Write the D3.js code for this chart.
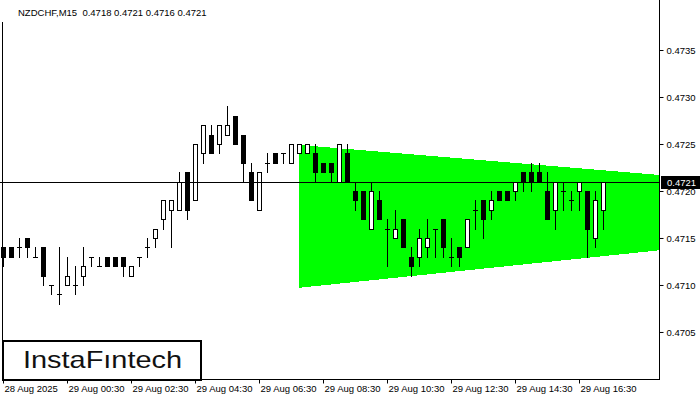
<!DOCTYPE html>
<html><head><meta charset="utf-8">
<script src="https://cdn.jsdelivr.net/npm/d3@7"></script>
<style>html,body{margin:0;padding:0;background:#fff;} svg{display:block;} text{font-family:"Liberation Sans",Arial,sans-serif;}</style>
</head><body><svg id="c" width="700" height="400"></svg>
<script>
const chartTitle = "NZDCHF,M15  0.4718 0.4721 0.4716 0.4721";
const openV  = [0.4714,0.4714,0.4714,0.4715,0.4713,0.4714,0.4710,0.4709,0.4710,0.4710,
                0.4711,0.4713,0.4712,0.4713,0.4713,0.4713,0.4711,0.4713,0.4714,0.4715,
                0.4717,0.4718,0.4718,0.4722,0.4719,0.4724,0.4726,0.4725,0.4726,0.4728,
                0.4726,0.4722,0.4718,0.4723,0.4724,0.4724,0.4723,0.4724,0.4724,0.4724,
                0.4723,0.4723,0.4721,0.4724,0.4720,0.4720,0.4716,0.4719,0.4716,0.4715,
                0.4717,0.4713,0.4713,0.4714,0.4716,0.4717,0.4713,0.4714,0.4714,0.4718,
                0.4719,0.4718,0.4720,0.4720,0.4720,0.4722,0.4722,0.4722,0.4720,0.4718,
                0.4720,0.4719,0.4720,0.4720,0.4715,0.4718];
const highV  = [0.4714,0.4714,0.4715,0.4715,0.4714,0.4714,0.4710,0.4714,0.4713,0.4712,
                0.4714,0.4713,0.4713,0.4713,0.4713,0.4713,0.4712,0.4713,0.4715,0.4716,
                0.4719,0.4719,0.4722,0.4722,0.4725,0.4727,0.4727,0.4727,0.4729,0.4728,
                0.4726,0.4723,0.4722,0.4724,0.4724,0.4724,0.4725,0.4725,0.4725,0.4725,
                0.4723,0.4723,0.4725,0.4725,0.4721,0.4720,0.4721,0.4720,0.4717,0.4718,
                0.4717,0.4714,0.4716,0.4717,0.4716,0.4717,0.4715,0.4714,0.4717,0.4719,
                0.4719,0.4720,0.4720,0.4720,0.4721,0.4722,0.4723,0.4723,0.4722,0.4721,
                0.4721,0.4720,0.4721,0.4720,0.4720,0.4721];
const lowV   = [0.4712,0.4713,0.4713,0.4713,0.4713,0.4710,0.4709,0.4708,0.4710,0.4709,
                0.4710,0.4712,0.4712,0.4712,0.4712,0.4711,0.4711,0.4712,0.4713,0.4714,
                0.4716,0.4714,0.4718,0.4717,0.4719,0.4723,0.4724,0.4724,0.4726,0.4725,
                0.4721,0.4719,0.4718,0.4722,0.4723,0.4723,0.4723,0.4724,0.4724,0.4721,
                0.4722,0.4721,0.4721,0.4721,0.4718,0.4717,0.4716,0.4717,0.4712,0.4715,
                0.4714,0.4711,0.4712,0.4713,0.4713,0.4713,0.4712,0.4712,0.4714,0.4716,
                0.4715,0.4717,0.4719,0.4719,0.4719,0.4720,0.4720,0.4721,0.4717,0.4716,
                0.4718,0.4718,0.4718,0.4713,0.4714,0.4716];
const closeV = [0.4713,0.4713,0.4714,0.4714,0.4713,0.4711,0.4710,0.4709,0.4711,0.4710,
                0.4712,0.4713,0.4712,0.4712,0.4712,0.4712,0.4712,0.4713,0.4714,0.4716,
                0.4719,0.4719,0.4721,0.4718,0.4725,0.4727,0.4724,0.4727,0.4727,0.4725,
                0.4723,0.4719,0.4722,0.4723,0.4723,0.4724,0.4725,0.4725,0.4725,0.4722,
                0.4722,0.4722,0.4725,0.4721,0.4719,0.4717,0.4720,0.4717,0.4716,0.4716,
                0.4714,0.4712,0.4715,0.4715,0.4716,0.4714,0.4713,0.4713,0.4717,0.4718,
                0.4717,0.4719,0.4719,0.4719,0.4721,0.4721,0.4721,0.4721,0.4717,0.4721,
                0.4720,0.4719,0.4721,0.4716,0.4719,0.4721];
const xTickIndex  = [0, 8, 16, 24, 32, 40, 48, 56, 64, 72];
const xTickLabels = ["28 Aug 2025","29 Aug 00:30","29 Aug 02:30","29 Aug 04:30","29 Aug 06:30",
                     "29 Aug 08:30","29 Aug 10:30","29 Aug 12:30","29 Aug 14:30","29 Aug 16:30"];
const yTickValues = [0.4705, 0.4710, 0.4715, 0.4720, 0.4725, 0.4730, 0.4735];
const lastPrice = 0.4721;
const triIndex  = [37, 82.1];
const triTop    = [0.47249, 0.47217];
const triBottom = [0.47097, 0.47137];
const logoText = "InstaFıntech";

const svg = d3.select("#c");
const plotW = 660, plotH = 380;
const x = d3.scaleLinear().domain([0, 75]).range([3.5, 603.5]);
const y = d3.scaleLinear().domain([0.469989, 0.474032]).range([plotH, 0]);
const sy = v => Math.round(y(v));

svg.append("defs").append("clipPath").attr("id","clip")
  .append("rect").attr("x",0).attr("y",0).attr("width",plotW).attr("height",plotH);
const plot = svg.append("g").attr("clip-path","url(#clip)");

// triangle
const triPts = [
  [x(triIndex[0]) - 0.5, y(triTop[0])],
  [x(triIndex[1]), y(triTop[1])],
  [x(triIndex[1]), y(triBottom[1])],
  [x(triIndex[0]) - 0.5, y(triBottom[0])]
];
plot.append("polygon").attr("points", triPts.map(p => p.join(",")).join(" "))
  .attr("fill","#00ff00").attr("shape-rendering","crispEdges");

// candles
const idx = d3.range(openV.length);
const cg = plot.append("g").attr("shape-rendering","crispEdges");
idx.forEach(i => {
  const cx = x(i), o = openV[i], c = closeV[i];
  cg.append("line").attr("x1",cx).attr("x2",cx)
    .attr("y1", sy(highV[i])).attr("y2", sy(lowV[i]) + 1).attr("stroke","#000");
  if (o === c) {
    cg.append("line").attr("x1",cx-2.5).attr("x2",cx+2.5)
      .attr("y1", sy(o)+0.5).attr("y2", sy(o)+0.5).attr("stroke","#000");
  } else {
    const top = sy(Math.max(o,c)), bot = sy(Math.min(o,c));
    if (c < o) {
      cg.append("rect").attr("x",cx-2.5).attr("y",top).attr("width",5).attr("height",bot-top+1).attr("fill","#000");
    } else {
      cg.append("rect").attr("x",cx-2).attr("y",top+0.5).attr("width",4).attr("height",bot-top)
        .attr("fill","#fff").attr("stroke","#000");
    }
  }
});

// last price line
const lpY = sy(lastPrice) + 0.5;
plot.append("line").attr("x1",0).attr("x2",plotW).attr("y1",lpY).attr("y2",lpY).attr("stroke","#000");

// frame
svg.append("line").attr("x1",2.5).attr("x2",2.5).attr("y1",22).attr("y2",plotH).attr("stroke","#000");

// y axis
const yAxis = d3.axisRight(y).tickValues(yTickValues).tickSize(4).tickPadding(3).tickFormat(d3.format(".4f"));
const ya = svg.append("g").attr("transform","translate(659.5,0)").call(yAxis);
ya.select(".domain").attr("d","M0,0V"+plotH).attr("stroke","#000");
ya.selectAll("text").attr("font-size","9.5px").attr("fill","#000").attr("font-family","Liberation Sans, Arial, sans-serif");
ya.selectAll(".tick line").attr("stroke","#000");

// x axis
const xAxis = d3.axisBottom(x).tickValues(xTickIndex).tickSize(4).tickFormat((d,i) => xTickLabels[i]);
const xa = svg.append("g").attr("transform","translate(-0.5,379.5)").call(xAxis);
xa.select(".domain").attr("d","M3,0H660").attr("stroke","#000");
xa.selectAll(".tick line").attr("stroke","#000");
xa.selectAll("text").attr("text-anchor","start").attr("x",1).attr("y",6)
  .attr("font-size","9.5px").attr("fill","#000").attr("font-family","Liberation Sans, Arial, sans-serif");

// price label
svg.append("rect").attr("x",661).attr("y",lpY-6.5).attr("width",39).attr("height",13).attr("fill","#000");
svg.append("text").attr("x",667).attr("y",lpY+3.5).attr("fill","#fff").attr("font-size","9.5px")
  .text(d3.format(".4f")(lastPrice));

// title
svg.append("text").attr("x",18).attr("y",16).attr("font-size","9.5px").attr("fill","#000")
  .style("white-space","pre").text(chartTitle);

// logo
svg.append("rect").attr("x",3).attr("y",341).attr("width",198).attr("height",39)
  .attr("fill","#fff").attr("stroke","#000").attr("stroke-width",2);
svg.append("text").attr("x",23).attr("y",368).attr("font-size","24px").attr("font-weight",500)
  .attr("font-family","Inter, 'Open Sans', sans-serif").attr("fill","#111")
  .attr("textLength",159).attr("lengthAdjust","spacingAndGlyphs").text(logoText);
</script></body></html>
